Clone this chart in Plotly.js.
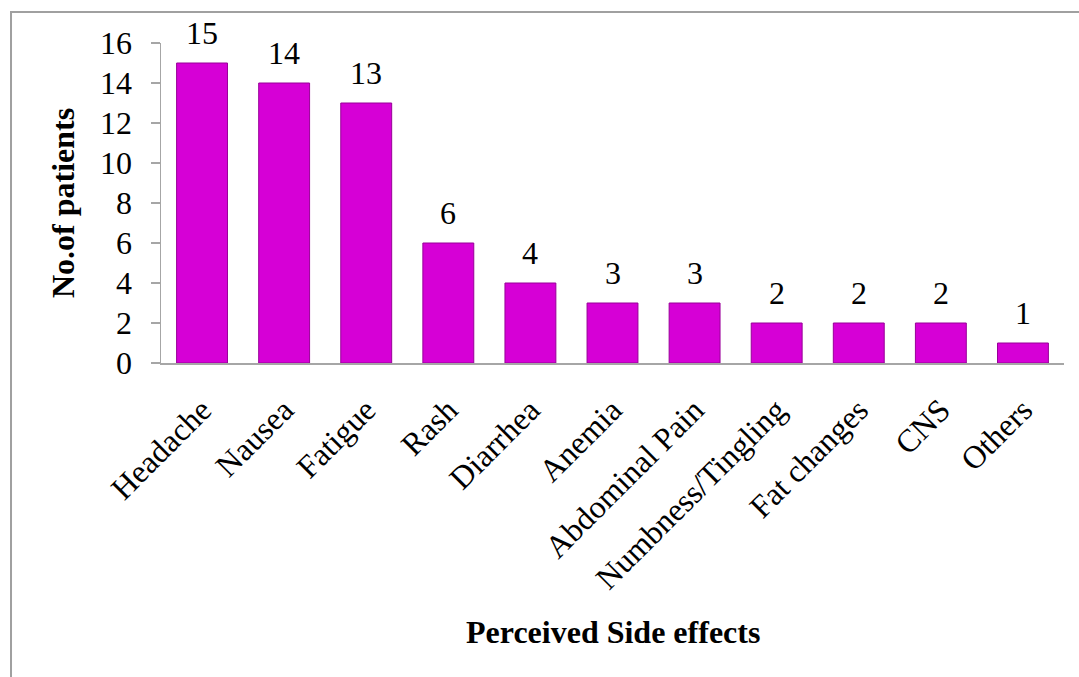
<!DOCTYPE html>
<html>
<head>
<meta charset="utf-8">
<script src="https://cdn.plot.ly/plotly-3.0.1.min.js"></script>
<style>html,body{margin:0;padding:0;background:#fff;}#chart{width:1079px;height:677px;}</style>
</head>
<body>
<div id="chart"></div>
<script>
const categories = ["Headache","Nausea","Fatigue","Rash","Diarrhea","Anemia","Abdominal Pain","Numbness/Tingling","Fat changes","CNS","Others"];
const patients = [15,14,13,6,4,3,3,2,2,2,1];
const yTicks = [0,2,4,6,8,10,12,14,16];

const font = "'Liberation Serif', 'Times New Roman', serif";

const bars = {
  type: 'bar',
  x: categories,
  y: patients,
  marker: {color: '#d600d6', line: {color: '#980098', width: 1}},
  hoverinfo: 'x+y'
};

const labelAnns = categories.map((c, i) => ({
  x: c, y: patients[i], xref: 'x', yref: 'y',
  text: String(patients[i]), showarrow: false,
  yanchor: 'bottom', yshift: 10,
  font: {family: font, size: 32, color: '#000'}
}));

const layout = {
  width: 1079, height: 677,
  margin: {l: 161, r: 15, t: 43, b: 314},
  paper_bgcolor: '#fff', plot_bgcolor: '#fff',
  showlegend: false,
  bargap: 0.38,
  xaxis: {
    type: 'category',
    showgrid: false, zeroline: false,
    showline: true, linecolor: '#a6a6a6', linewidth: 1.5,
    ticks: '', tickangle: -45,
    ticklabelstandoff: 14,
    tickfont: {family: font, size: 32, color: '#000'},
    automargin: false
  },
  yaxis: {
    range: [0, 16],
    tickvals: yTicks,
    ticktext: yTicks.map(String),
    showgrid: false, zeroline: false,
    showline: true, linecolor: '#a6a6a6', linewidth: 1.5,
    ticks: 'outside', ticklen: 9, tickcolor: '#a6a6a6', tickwidth: 1.5,
    ticklabelstandoff: 12,
    tickfont: {family: font, size: 32, color: '#000'},
    automargin: false
  },
  annotations: labelAnns.concat([
    {xref: 'paper', yref: 'paper', x: 0.5, y: -0.8406, text: '<b>Perceived Side effects</b>',
     showarrow: false, xanchor: 'center', yanchor: 'middle',
     font: {family: font, size: 32, color: '#000'}},
    {xref: 'paper', yref: 'paper', x: -0.1085, y: 0.5, text: '<b>No.of patients</b>',
     showarrow: false, textangle: -90, xanchor: 'center', yanchor: 'middle',
     font: {family: font, size: 32, color: '#000'}}
  ]),
  shapes: [
    {type: 'rect', xref: 'paper', yref: 'paper', x0: -0.1661, x1: 1.03, y0: -1.03, y1: 1.0969,
     line: {color: '#a0a0a0', width: 2}, fillcolor: 'rgba(0,0,0,0)', layer: 'below'}
  ]
};

Plotly.newPlot('chart', [bars], layout, {displayModeBar: false, staticPlot: true});
</script>
</body>
</html>
